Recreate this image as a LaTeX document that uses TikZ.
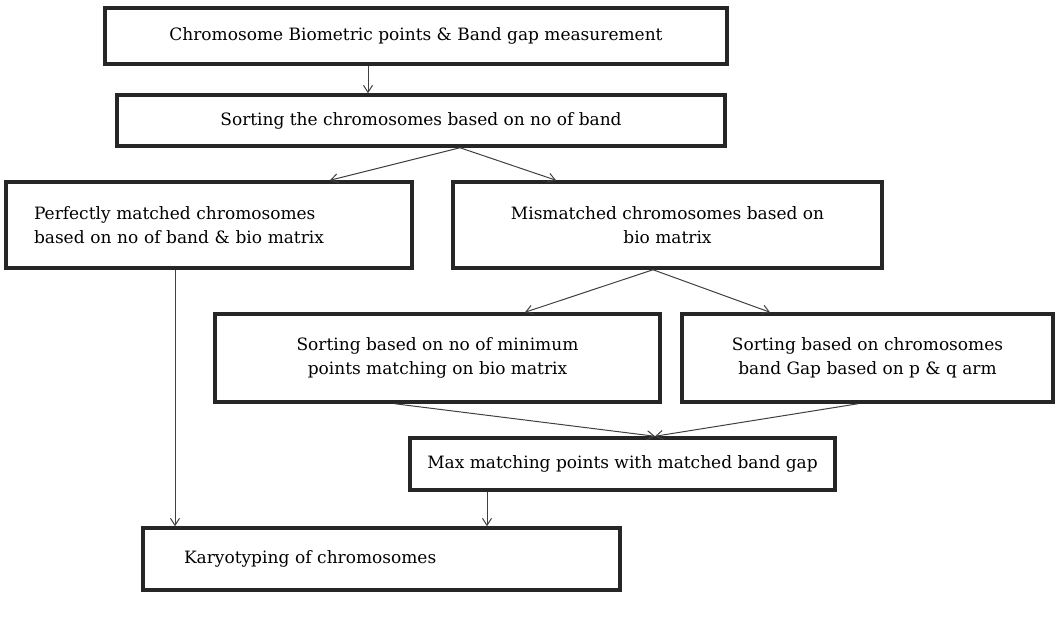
\documentclass[tikz,border=0pt]{standalone}
\usepackage{fontspec}
\setmainfont{DejaVu Serif}
\usepackage{tikz}
\usetikzlibrary{arrows.meta,positioning,calc}

\tikzset{
  flowbox/.style={draw=black!85,line width=3.5pt,fill=white,inner sep=0pt,align=center},
  flowarrow/.style={->,draw=black!75,line width=1pt}
}

\begin{document}
\begin{tikzpicture}[x=1pt,y=-1pt,>={Straight Barb[length=7pt,width=9pt]},
  every node/.style={font=\fontsize{17}{24}\selectfont}]
\useasboundingbox (0,0) rectangle (1060,641);
\node[flowbox,minimum width=622,minimum height=56] (bio) at (416,36) {Chromosome Biometric points \& Band gap measurement};
\node[flowbox,minimum width=608,minimum height=51] (sortband) at (421,120.5) {Sorting the chromosomes based on no of band};
\node[flowbox,minimum width=406,minimum height=86,text width=350,align=left] (perfect) at (209,225) {Perfectly matched chromosomes\\based on no of band \& bio matrix};
\node[flowbox,minimum width=429,minimum height=86] (mismatch) at (667.5,225) {Mismatched chromosomes based on\\bio matrix};
\node[flowbox,minimum width=445,minimum height=88] (minpts) at (437.5,358) {Sorting based on no of minimum\\points matching on bio matrix};
\node[flowbox,minimum width=371,minimum height=88] (bandgap) at (867.5,358) {Sorting based on chromosomes\\band Gap based on p \& q arm};
\node[flowbox,minimum width=425,minimum height=52] (maxmatch) at (622.5,464) {Max matching points with matched band gap};
\node[flowbox,minimum width=477,minimum height=62,text width=395,align=left] (karyo) at (381.5,559) {Karyotyping of chromosomes};
\draw[flowarrow] ([xshift=-48pt]bio.south) -- ([xshift=-48pt]bio.south |- sortband.north);
\draw[flowarrow] ([xshift=39pt]sortband.south) -- ([xshift=121pt]perfect.north);
\draw[flowarrow] ([xshift=39pt]sortband.south) -- ([xshift=-111.5pt]mismatch.north);
\draw[flowarrow] ([xshift=-14.5pt]mismatch.south) -- ([xshift=87.5pt]minpts.north);
\draw[flowarrow] ([xshift=-14.5pt]mismatch.south) -- ([xshift=-97.5pt]bandgap.north);
\draw[flowarrow] ([xshift=-42.5pt]minpts.south) -- ([xshift=32.5pt]maxmatch.north);
\draw[flowarrow] ([xshift=-9.5pt]bandgap.south) -- ([xshift=32.5pt]maxmatch.north);
\draw[flowarrow] ([xshift=-34pt]perfect.south) -- ([xshift=-34pt]perfect.south |- karyo.north);
\draw[flowarrow] ([xshift=-135.5pt]maxmatch.south) -- ([xshift=-135.5pt]maxmatch.south |- karyo.north);
\end{tikzpicture}
\end{document}
